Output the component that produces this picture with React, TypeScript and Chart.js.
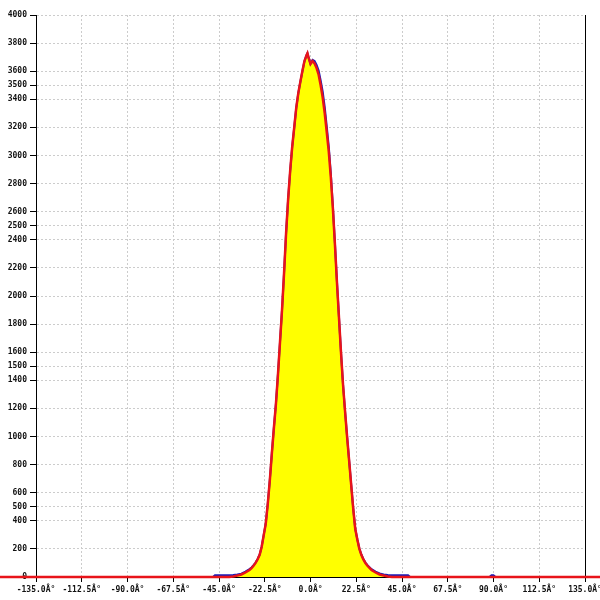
import React, { useEffect, useRef } from "react";
import { Chart, registerables } from "chart.js";

Chart.register(...registerables);

// Measured histogram (blue, yellow fill)
const angles = [
  -135, -48, -47, -46, -44, -42, -40, -38, -36, -34, -32, -30, -29, -28, -27, -26, -25, -24, -23, -22,
  -21, -20, -19, -18, -17, -16, -15, -14, -13, -12, -11, -10, -9, -8, -7, -6, -5, -4, -3, -2, -1.5,
  -1, 0, 1, 2, 3, 4, 5, 6, 7, 8, 9, 10, 11, 12, 13, 14, 15, 16, 17, 18, 19, 20, 21, 22, 23, 24, 25,
  26, 27, 28, 30, 32, 34, 36, 38, 40, 42, 44, 46, 48, 49, 88, 89, 90, 91, 135,
];
const counts = [
  0, 0, 12, 12, 12, 12, 12, 14, 18, 24, 38, 56, 68, 85, 103, 128, 160, 217, 300, 382,
  525, 692, 883, 1065, 1233, 1444, 1673, 1903, 2165, 2450, 2690, 2890, 3062, 3200, 3340, 3444, 3524, 3600, 3670, 3712, 3728,
  3700, 3652, 3680, 3672, 3645, 3605, 3535, 3455, 3345, 3205, 3062, 2872, 2640, 2380, 2105, 1850, 1600, 1370, 1180, 1000, 830, 660, 490, 345, 270, 205, 160,
  128, 103, 84, 56, 38, 26, 18, 14, 12, 12, 12, 12, 12, 0, 0, 12, 12, 0, 0,
];

// Fitted curve (red)
const fitAngles = [
  -154, -40, -38, -36, -34, -32, -30, -29, -28, -27, -26, -25, -24, -23, -22,
  -21, -20, -19, -18, -17, -16, -15, -14, -13, -12, -11, -10, -9, -8, -7, -6, -5, -4, -3, -2, -1.5,
  -1, 0, 1, 2, 3, 4, 5, 6, 7, 8, 9, 10, 11, 12, 13, 14, 15, 16, 17, 18, 19, 20, 21, 22, 23, 24, 25,
  26, 27, 28, 30, 32, 34, 36, 38, 40, 144,
];
const fitValues = [
  0, 0, 4, 10, 18, 32, 50, 63, 80, 100, 126, 158, 215, 298, 380,
  522, 690, 880, 1062, 1232, 1442, 1672, 1902, 2165, 2450, 2690, 2890, 3062, 3200, 3340, 3444, 3524, 3600, 3670, 3712, 3728,
  3700, 3652, 3672, 3655, 3622, 3575, 3500, 3412, 3300, 3165, 3025, 2845, 2625, 2372, 2100, 1848, 1598, 1368, 1178, 998, 828, 658, 488, 343, 268, 202, 158,
  125, 100, 80, 50, 32, 18, 10, 4, 0, 0,
];

const xTicks = [-135, -112.5, -90, -67.5, -45, -22.5, 0, 22.5, 45, 67.5, 90, 112.5, 135];
const yTicks = [0, 200, 400, 500, 600, 800, 1000, 1200, 1400, 1500, 1600, 1800, 2000, 2200, 2400, 2500, 2600, 2800, 3000, 3200, 3400, 3500, 3600, 3800, 4000];

export default function App() {
  const ref = useRef<HTMLCanvasElement>(null);
  useEffect(() => {
    document.body.style.margin = "0";
    const tickFont = { family: "DejaVu Sans Mono", size: 8, weight: "bold" as const };
    const chart = new Chart(ref.current!, {
      type: "line",
      data: {
        datasets: [
          {
            label: "fit",
            data: fitAngles.map((x, i) => ({ x, y: fitValues[i] })),
            borderColor: "#e8141a",
            borderWidth: 2.5,
            pointRadius: 0,
            fill: false,
            tension: 0,
            clip: false as any,
            order: 0,
          },
          {
            label: "data",
            data: angles.map((x, i) => ({ x, y: counts[i] })),
            borderColor: "#1a1ab8",
            backgroundColor: "#ffff00",
            borderWidth: 2,
            pointRadius: 0,
            fill: "origin",
            tension: 0,
            order: 1,
          },
        ],
      },
      options: {
        animation: false,
        responsive: false,
        devicePixelRatio: 1,
        layout: { padding: { top: 15, right: 15, left: 0, bottom: 0 } },
        plugins: { legend: { display: false }, tooltip: { enabled: false }, title: { display: false } },
        scales: {
          x: {
            type: "linear",
            min: -135,
            max: 135,
            afterBuildTicks: (s: any) => {
              s.ticks = xTicks.map((v) => ({ value: v }));
            },
            afterFit: (s: any) => {
              s.height = 23;
              s.paddingRight = 0;
              s.paddingLeft = 0;
            },
            ticks: {
              autoSkip: false,
              maxRotation: 0,
              padding: 3,
              color: "#111",
              font: tickFont,
              callback: (v: any) => `${Number(v).toFixed(1)}Â°`,
            },
            grid: {
              color: (c: any) => (c.tick && c.tick.value === 135 ? "#000" : "#cccccc"),
              lineWidth: 1,
              tickColor: "#000",
              tickLength: 5,
            },
            border: {
              display: true,
              color: "#000",
              width: 1,
              dash: (c: any) => (c.tick && c.tick.value === 135 ? [] : [2, 2]),
            } as any,
          },
          y: {
            type: "linear",
            min: 0,
            max: 4000,
            afterBuildTicks: (s: any) => {
              s.ticks = yTicks.map((v) => ({ value: v }));
            },
            afterFit: (s: any) => {
              s.width = 36;
            },
            ticks: {
              autoSkip: false,
              padding: 3,
              color: "#111",
              font: tickFont,
              callback: (v: any) => `${v}`,
            },
            grid: {
              color: "#cccccc",
              lineWidth: 1,
              tickColor: "#000",
              tickLength: 6,
            },
            border: { display: true, color: "#000", width: 1, dash: [2, 2] },
          },
        },
      },
    });
    return () => chart.destroy();
  }, []);
  return (
    <canvas
      ref={ref}
      width={600}
      height={600}
      style={{ position: "fixed", top: 0, left: 0, width: 600, height: 600, background: "#fff" }}
    />
  );
}
